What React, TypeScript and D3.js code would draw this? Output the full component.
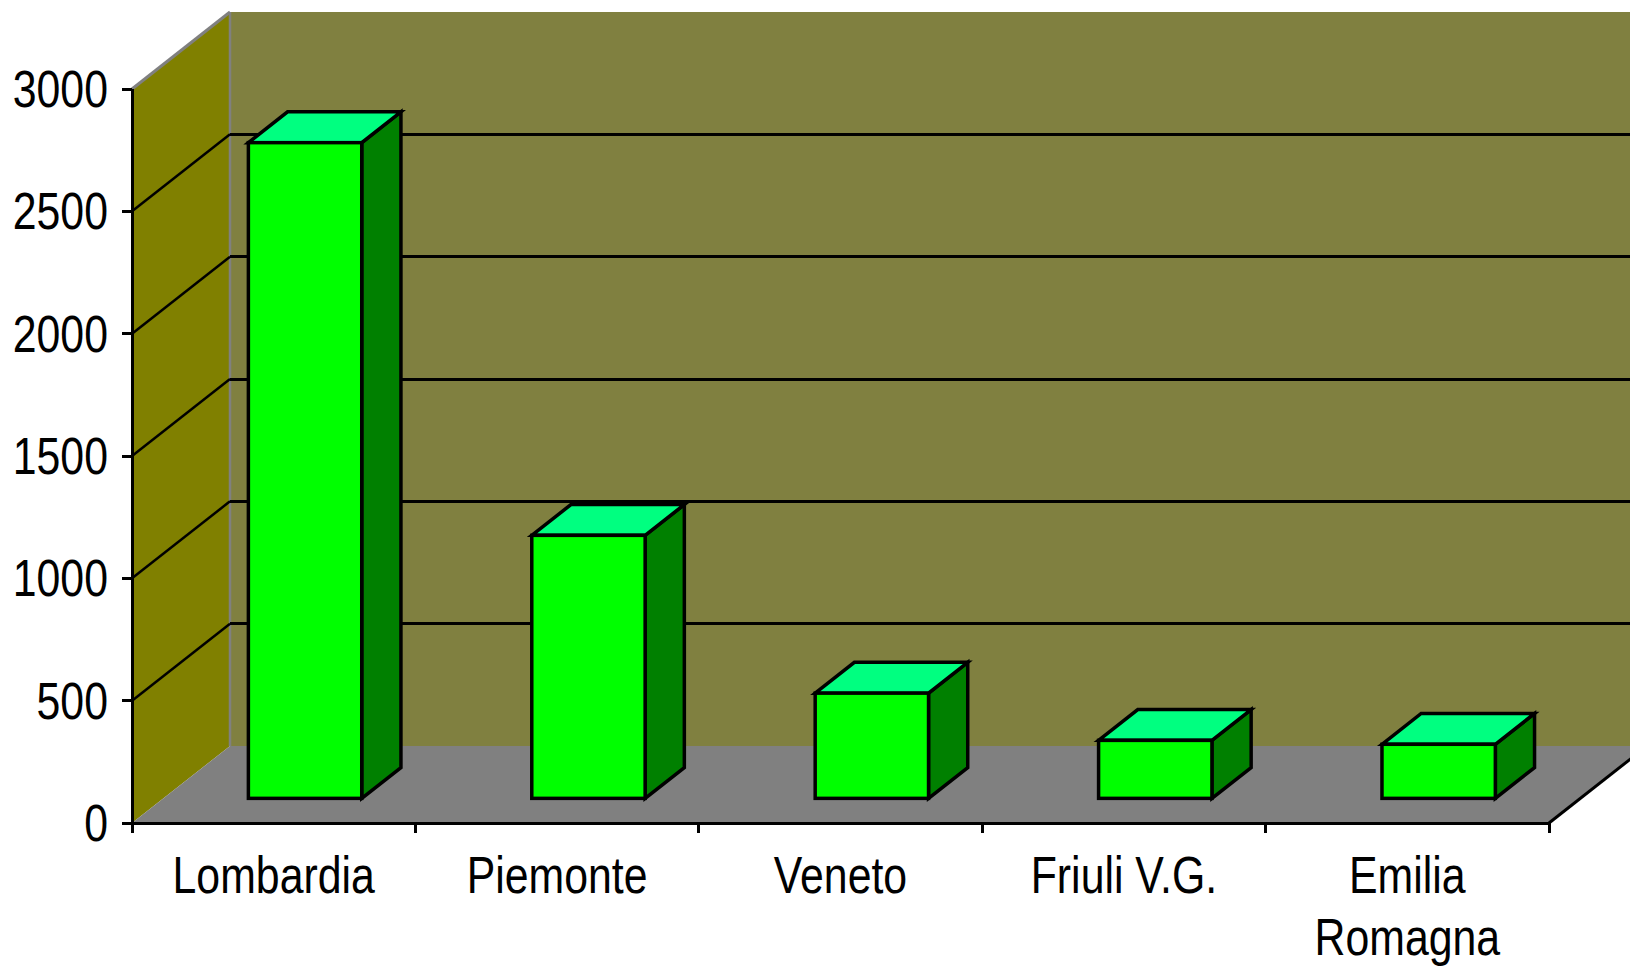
import { useEffect, useRef } from 'react';
import * as d3 from 'd3';

// regions and values
const regions = ['Lombardia', 'Piemonte', 'Veneto', 'Friuli V.G.', 'Emilia Romagna'];
const values = [2680, 1075, 430, 237, 221];
const yTicks = [0, 500, 1000, 1500, 2000, 2500, 3000];

const W = 1630;
const H = 966;

function Chart3D() {
  const svgRef = useRef<SVGSVGElement>(null);

  useEffect(() => {
    const svg = d3.select(svgRef.current);
    svg.selectAll('*').remove();

    const left = 132;
    const right = 1549;
    const bottom = 823;
    const top = 89;
    // depth vector of the whole floor
    const DX = 98;
    const DY = -77;
    const f0 = 0.32;
    const f1 = 0.72;

    const x = d3.scaleBand<string>().domain(regions).range([left, right]);
    const y = d3.scaleLinear().domain([0, 3000]).range([bottom, top]);

    // no narrow font installed, so squeeze a regular one
    const font = '"Liberation Sans", Arial, sans-serif';
    const squeeze = 0.84;
    const pts = (p: number[][]) => p.map(d => d.join(',')).join(' ');

    const label = (px: number, py: number, s: string, anchor: string) => {
      svg.append('g')
        .attr('transform', `translate(${px},${py}) scale(${squeeze},1)`)
        .append('text')
        .attr('text-anchor', anchor)
        .attr('font-family', font)
        .attr('font-size', 51)
        .attr('fill', '#000')
        .text(s);
    };

    const y0 = y(0);
    const yMax = y(3000);

    // back wall
    svg.append('polygon')
      .attr('points', pts([[left + DX, yMax + DY], [W + 40, yMax + DY], [W + 40, y0 + DY], [left + DX, y0 + DY]]))
      .attr('fill', '#808040');

    // side wall
    svg.append('polygon')
      .attr('points', pts([[left, yMax], [left + DX, yMax + DY], [left + DX, y0 + DY], [left, y0]]))
      .attr('fill', '#808000');

    // floor
    svg.append('polygon')
      .attr('points', pts([[left, y0], [left + DX, y0 + DY], [right + DX, y0 + DY], [right, y0]]))
      .attr('fill', '#808080');

    // wall edges
    svg.append('line')
      .attr('x1', left + DX).attr('x2', left + DX)
      .attr('y1', yMax + DY).attr('y2', y0 + DY)
      .attr('stroke', '#808080').attr('stroke-width', 2.5);
    svg.append('line')
      .attr('x1', left).attr('y1', yMax)
      .attr('x2', left + DX).attr('y2', yMax + DY)
      .attr('stroke', '#808080').attr('stroke-width', 3);

    // grid lines on side and back walls
    const grid = yTicks.filter(t => t > 0 && t < 3000);
    grid.forEach(t => {
      svg.append('line')
        .attr('x1', left).attr('y1', y(t))
        .attr('x2', left + DX).attr('y2', y(t) + DY)
        .attr('stroke', '#000').attr('stroke-width', 2.5);
      svg.append('line')
        .attr('x1', left + DX).attr('y1', y(t) + DY)
        .attr('x2', W + 40).attr('y2', y(t) + DY)
        .attr('stroke', '#000').attr('stroke-width', 3)
        .attr('shape-rendering', 'crispEdges');
    });

    // floor right edge
    svg.append('line')
      .attr('x1', right).attr('y1', y0)
      .attr('x2', right + DX).attr('y2', y0 + DY)
      .attr('stroke', '#000').attr('stroke-width', 3);

    // bars
    const bw = x.bandwidth() * 0.4;
    const ddx = (f1 - f0) * DX;
    const ddy = (f1 - f0) * DY;
    regions.forEach((r, i) => {
      const xl = (x(r) as number) + (x.bandwidth() - bw) / 2 + f0 * DX;
      const xr = xl + bw;
      const yb = y0 + f0 * DY;
      const yt = y(values[i]) + f0 * DY;
      const g = svg.append('g')
        .attr('stroke', '#000')
        .attr('stroke-width', 3.5)
        .attr('stroke-linejoin', 'miter');
      g.append('polygon')
        .attr('points', pts([[xr, yt], [xr + ddx, yt + ddy], [xr + ddx, yb + ddy], [xr, yb]]))
        .attr('fill', '#008000');
      g.append('polygon')
        .attr('points', pts([[xl, yt], [xl + ddx, yt + ddy], [xr + ddx, yt + ddy], [xr, yt]]))
        .attr('fill', '#00FF80');
      g.append('rect')
        .attr('x', xl).attr('y', yt)
        .attr('width', bw).attr('height', yb - yt)
        .attr('fill', '#00FF00');
    });

    // y axis
    svg.append('line')
      .attr('x1', left).attr('x2', left)
      .attr('y1', yMax).attr('y2', y0)
      .attr('stroke', '#000').attr('stroke-width', 3)
      .attr('shape-rendering', 'crispEdges');
    yTicks.forEach(t => {
      svg.append('line')
        .attr('x1', left - 10).attr('x2', left)
        .attr('y1', y(t)).attr('y2', y(t))
        .attr('stroke', '#000').attr('stroke-width', 3)
        .attr('shape-rendering', 'crispEdges');
      label(108, y(t) + 18, String(t), 'end');
    });

    // x axis
    svg.append('line')
      .attr('x1', left).attr('x2', right)
      .attr('y1', y0).attr('y2', y0)
      .attr('stroke', '#000').attr('stroke-width', 3)
      .attr('shape-rendering', 'crispEdges');
    const bounds = regions.map(r => x(r) as number).concat([right]);
    bounds.forEach(b => {
      svg.append('line')
        .attr('x1', b).attr('x2', b)
        .attr('y1', y0).attr('y2', y0 + 10)
        .attr('stroke', '#000').attr('stroke-width', 3)
        .attr('shape-rendering', 'crispEdges');
    });

    regions.forEach(r => {
      const cx = (x(r) as number) + x.bandwidth() / 2;
      const words = r === 'Emilia Romagna' ? ['Emilia', 'Romagna'] : [r];
      words.forEach((w, k) => label(cx, 893 + k * 62, w, 'middle'));
    });
  }, []);

  return <svg ref={svgRef} width={W} height={H} style={{ display: 'block' }}></svg>;
}

export default function App() {
  return (
    <div style={{ position: 'absolute', left: 0, top: 0, width: W, height: H, background: '#fff', overflow: 'hidden' }}>
      <Chart3D />
    </div>
  );
}
